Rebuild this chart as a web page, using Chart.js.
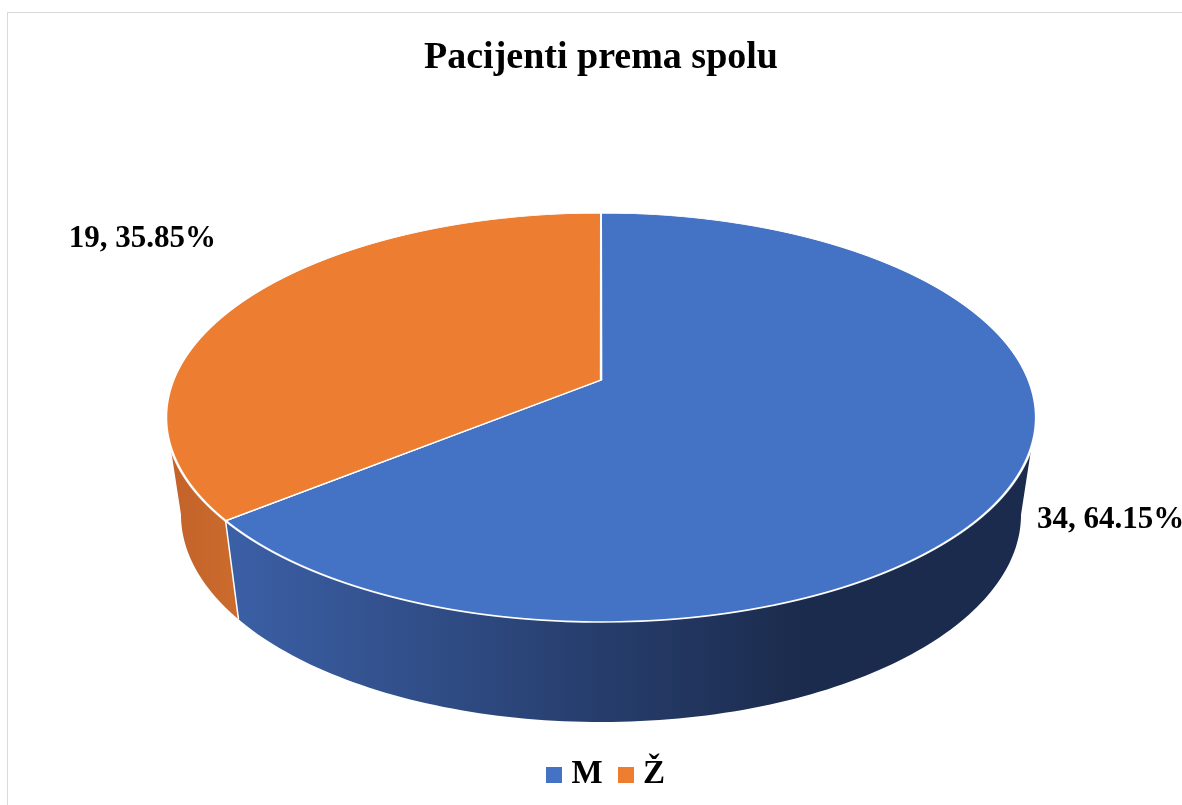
<!DOCTYPE html>
<html>
<head>
<meta charset="utf-8">
<script src="https://cdn.jsdelivr.net/npm/chart.js@4.4.1/dist/chart.umd.min.js"></script>
<style>
  html, body { margin: 0; padding: 0; background: #fff; overflow: hidden; width: 1182px; height: 805px; }
  #wrap { position: absolute; left: 7px; top: 12px; width: 1190px; height: 800px; border: 1px solid #d9d9d9; background: #fff; }
  canvas { display: block; }
</style>
</head>
<body>
<div id="wrap"><canvas id="c" width="1190" height="802"></canvas></div>
<script>
// ---- data ----
const categories = ['M', 'Ž'];
const counts = [34, 19];
const sliceColors = ['#4472C4', '#ED7D31'];
const chartTitle = 'Pacijenti prema spolu';

const total = counts.reduce((s, v) => s + v, 0);
const percents = counts.map(v => (v / total * 100).toFixed(2));

// wall gradient colours per slice
const wallStops = [
  [[0.0, '#3f63ab'], [0.08, '#3b5fa5'], [0.73, '#1b2b4d'], [1.0, '#1b2b4d']],
  [[0.0, '#c2622a'], [0.09, '#cd6c2d'], [1.0, '#cd6c2d']]
];

function squareIcon(color) {
  const c = document.createElement('canvas');
  c.width = 16; c.height = 16;
  const x = c.getContext('2d');
  x.fillStyle = color;
  x.fillRect(0, 0, 16, 16);
  return c;
}

const pie3d = {
  id: 'pie3d',
  geom(chart, o) {
    const arcs = chart.getDatasetMeta(0).data;
    return { arcs, cx: arcs[0].x, cy: arcs[0].y, R: arcs[0].outerRadius, TX: arcs[0].x };
  },
  afterLayout(chart, args, o) {
    if (chart.legend) {
      chart.legend.left += o.legendShift;
      chart.legend.right += o.legendShift;
    }
  },
  beforeDatasetsDraw(chart, args, o) {
    const ctx = chart.ctx;
    const { arcs, cx, cy, R, TX } = this.geom(chart, o);
    const k = o.k;
    const top = t => { const z = 1 - k * Math.sin(t); return [TX + o.A * Math.cos(t) / z, o.Yc + o.B * Math.sin(t) / z]; };
    const bot = t => { const z = 1 - k * Math.sin(t); return [TX + o.Ab * Math.cos(t) / z, o.Ycb + o.Bb * Math.sin(t) / z]; };
    const ts = Math.asin(k);
    // side walls (front part)
    arcs.forEach((arc, i) => {
      const a = Math.max(arc.startAngle, ts), b = Math.min(arc.endAngle, Math.PI - ts);
      if (a >= b) return;
      const n = 120;
      ctx.save();
      ctx.beginPath();
      for (let j = 0; j <= n; j++) {
        const p = top(a + (b - a) * j / n);
        j === 0 ? ctx.moveTo(p[0], p[1]) : ctx.lineTo(p[0], p[1]);
      }
      for (let j = n; j >= 0; j--) {
        const p = bot(a + (b - a) * j / n);
        ctx.lineTo(p[0], p[1]);
      }
      ctx.closePath();
      const grad = ctx.createLinearGradient(TX - o.A * 1.0173, 0, TX + o.A * 1.0173, 0);
      wallStops[i].forEach(([p, c]) => grad.addColorStop(p, c));
      ctx.fillStyle = grad;
      ctx.fill();
      ctx.restore();
    });
    // white seams on the wall
    arcs.forEach(arc => {
      const t = arc.endAngle;
      if (t > ts && t < Math.PI - ts) {
        const p = top(t), q = bot(t);
        ctx.save();
        ctx.strokeStyle = '#ffffff';
        ctx.lineWidth = 1.5;
        ctx.beginPath();
        ctx.moveTo(p[0], p[1]);
        ctx.lineTo(q[0], q[1]);
        ctx.stroke();
        ctx.restore();
      }
    });
    // top face: perspective built from 1px bands, each an affine view of the library arcs
    const y0 = Math.floor(o.Yc - o.B / (1 + k)) - 3;
    const y1 = Math.ceil(o.Yc + o.B / (1 - k)) + 3;
    for (let y = y0; y < y1; y++) {
      const ym = y + 0.5;
      const w = (ym - o.Yc) / o.B;
      const v = w / (1 + k * w);
      const z = 1 - k * v;
      const sx = o.A / (z * R), sy = o.B / (z * z * R);
      ctx.save();
      ctx.beginPath();
      ctx.rect(0, y, chart.width, 1);
      ctx.clip();
      ctx.translate(TX, ym);
      ctx.scale(sx, sy);
      ctx.translate(-cx, -(cy + R * v));
      arcs.forEach(a => a.draw(ctx));
      ctx.restore();
    }
    return false;
  },
  afterDraw(chart, args, o) {
    const ctx = chart.ctx;
    const { TX } = this.geom(chart, o);
    ctx.save();
    ctx.font = 'bold 31px "Liberation Serif", "Times New Roman", serif';
    ctx.fillStyle = '#000';
    ctx.textBaseline = 'middle';
    o.labels.forEach((lp, i) => {
      ctx.textAlign = lp.align;
      ctx.fillText(counts[i] + ', ' + percents[i] + '%', TX + lp.dx, o.Yc + lp.dy);
    });
    ctx.restore();
  }
};

new Chart(document.getElementById('c'), {
  type: 'pie',
  data: {
    labels: categories,
    datasets: [{
      data: counts,
      backgroundColor: sliceColors,
      borderColor: '#ffffff',
      borderWidth: 1.8
    }]
  },
  plugins: [pie3d],
  options: {
    responsive: false,
    devicePixelRatio: 1,
    animation: false,
    events: [],
    layout: { padding: { right: 4, bottom: 14 } },
    plugins: {
      pie3d: {
        legendShift: 8.5,
        Yc: 367, A: 427.6, B: 197.6, k: 0.1834,
        Ycb: 463.5, Ab: 412.9, Bb: 200.5,
        labels: [
          { dx: 436, dy: 140, align: 'left' },
          { dx: -385, dy: -141, align: 'right' }
        ]
      },
      tooltip: { enabled: false },
      title: {
        display: true,
        text: chartTitle,
        color: '#000',
        font: { family: '"Liberation Serif", "Times New Roman", serif', size: 38, weight: 'bold' },
        padding: { top: 22, bottom: 10 }
      },
      legend: {
        position: 'bottom',
        labels: {
          color: '#000',
          font: { family: '"Liberation Serif", "Times New Roman", serif', size: 33, weight: 'bold' },
          usePointStyle: true,
          boxWidth: 1,
          boxHeight: 16,
          padding: 23,
          generateLabels(chart) {
            return Chart.overrides.pie.plugins.legend.labels.generateLabels(chart)
              .map((l, i) => Object.assign(l, { lineWidth: 0, strokeStyle: 'rgba(0,0,0,0)', pointStyle: squareIcon(sliceColors[i]) }));
          }
        }
      }
    }
  }
});
</script>
</body>
</html>
